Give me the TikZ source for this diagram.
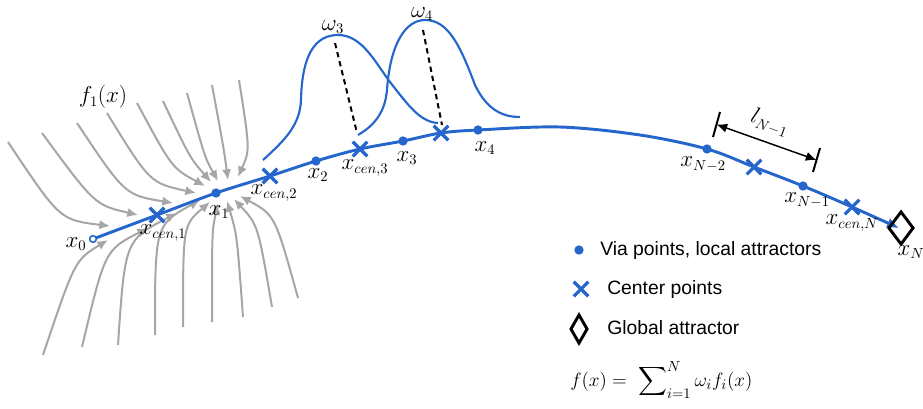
\documentclass[tikz,border=0pt]{standalone}
\usepackage{amsmath,amssymb}
\usepackage{fontspec}
\setsansfont{Liberation Sans}
\usepackage{xcolor}
\usetikzlibrary{arrows.meta,calc,shapes.geometric,shapes.misc}

\definecolor{pathblue}{RGB}{36,102,204}
\definecolor{fieldgray}{RGB}{166,166,166}

\begin{document}
\begin{tikzpicture}[>={Latex[length=8pt,width=7pt]},x=0.75pt,y=-0.75pt,
    pathline/.style={draw=pathblue,line width=2.2pt},
    bump/.style={draw=pathblue,line width=1.6pt},
    stream/.style={->,draw=fieldgray,line width=1.5pt},
    via/.style={circle,fill=pathblue,inner sep=0pt,minimum size=7pt},
    cen/.style={cross out,draw=pathblue,line width=2.4pt,inner sep=0pt,minimum size=8.5pt},
    goal/.style={diamond,draw=black,line width=2.2pt,inner sep=0pt},
    lbl/.style={font=\fontsize{16}{18}\selectfont,inner sep=0pt},
    legtext/.style={anchor=west,font=\sffamily\fontsize{14.5}{17}\selectfont,inner sep=0pt}]
  \useasboundingbox (0,0) rectangle (923,408);

  % --- vector field f_1 converging on x_1
  \foreach \sx/\sy/\cx/\cy/\ex/\ey in {8/142/60/220/110/226, 42/133/95/205/138/215,
      77/123/125/195/173/203, 107/113/150/183/196/193, 137/103/172/168/205/186,
      163/101/190/158/211/182, 187/93/205/158/218/181, 212/85/224/150/228/180,
      239/80/250/150/238/177}
    \draw[stream] (\sx,\sy) .. controls (\cx,\cy) .. (\ex,\ey);
  \foreach \sx/\sy/\cx/\cy/\ex/\ey in {43/355/75/260/108/240, 82/347/105/250/148/228,
      118/345/125/240/177/213, 155/335/155/225/200/200, 183/327/183/225/210/202,
      212/322/212/230/218/204, 243/317/237/235/227/201, 272/307/258/225/234/199,
      298/298/275/215/240/196}
    \draw[stream] (\sx,\sy) .. controls (\cx,\cy) .. (\ex,\ey);
  \node[lbl] (f1) at (103,97) {$f_1(x)$};

  % --- weighting kernels omega_3 and omega_4
  \draw[bump] (263,160) .. controls (285,140) and (300,125) .. (301,100)
    .. controls (302,55) and (315,35) .. (338,35)
    .. controls (362,35) and (375,62) .. (390,82)
    .. controls (408,105) and (420,122) .. (438,123);
  \draw[bump] (358,135) .. controls (375,125) and (385,112) .. (387,90)
    .. controls (390,45) and (405,20) .. (425,20)
    .. controls (448,20) and (460,45) .. (475,85)
    .. controls (488,112) and (505,117) .. (520,117);
  \coordinate (w3top) at (335,43);  \coordinate (w3bot) at (357,133);
  \coordinate (w4top) at (423,30);  \coordinate (w4bot) at (442,125);
  \draw[line width=1.5pt,dash pattern=on 4pt off 3pt] (w3top) -- (w3bot);
  \draw[line width=1.5pt,dash pattern=on 4pt off 3pt] (w4top) -- (w4bot);
  \node[lbl] (w3) at (333,27) {$\omega_3$};
  \node[lbl] (w4) at (422,14) {$\omega_4$};

  % --- trajectory
  \coordinate (x0) at (93,239);   \coordinate (c1) at (157,215);
  \coordinate (x1) at (216,193);  \coordinate (c2) at (270,176);
  \coordinate (x2) at (316,161);  \coordinate (c3) at (360,149);
  \coordinate (x3) at (403,141);  \coordinate (c4) at (441,133);
  \coordinate (x4) at (478,130);  \coordinate (m1) at (560,127);
  \coordinate (m2) at (640,135);  \coordinate (xn2) at (707,149);
  \coordinate (cn1) at (754,167); \coordinate (xn1) at (803,186);
  \coordinate (cn) at (852,207);  \coordinate (tip) at (899,228);
  \draw[pathline,-{Latex[length=9pt,width=8pt]}] plot[smooth,tension=0.55] coordinates
    {(x0) (c1) (x1) (c2) (x2) (c3) (x3) (c4) (x4) (m1) (m2) (xn2) (cn1) (xn1) (cn) (tip)};
  \node[goal,minimum width=19pt,minimum height=25pt] (gx) at (901,228) {};

  \node[circle,draw=pathblue,fill=white,line width=1.2pt,minimum size=5pt,inner sep=0pt] (p0) at (x0) {};
  \foreach \p in {x1,x2,x3,x4,xn2,xn1}
    \node[via] (p\p) at (\p) {};
  \foreach \p in {c1,c2,c3,c4,cn1,cn}
    \node[cen] (p\p) at (\p) {};

  \node[lbl] (lx0) at (76,244) {$x_0$};
  \node[lbl] (lc1) at (163,233) {$x_{cen,1}$};
  \node[lbl] (lx1) at (219,212) {$x_1$};
  \node[lbl] (lc2) at (274,193) {$x_{cen,2}$};
  \node[lbl] (lx2) at (318,175) {$x_2$};
  \node[lbl] (lc3) at (365,168) {$x_{cen,3}$};
  \node[lbl] (lx3) at (407,158) {$x_3$};
  \node[lbl] (lx4) at (485,148) {$x_4$};
  \node[lbl] (lxn2) at (703,164) {$x_{N-2}$};
  \node[lbl] (lxn1) at (807,200) {$x_{N-1}$};
  \node[lbl] (lcn) at (852,223) {$x_{cen,N}$};
  \node[lbl] (lxn) at (911,252) {$x_N$};

  % --- segment length l_{N-1}
  \coordinate (t1a) at (713,137); \coordinate (t1b) at (720,112);
  \coordinate (t2a) at (813,172); \coordinate (t2b) at (820,148);
  \draw[line width=1.5pt] (t1a) -- (t1b);
  \draw[line width=1.5pt] (t2a) -- (t2b);
  \draw[<->,line width=1.1pt] ($(t1a)!0.5!(t1b)$) -- ($(t2a)!0.5!(t2b)$);
  \node[lbl,rotate=-20] (ln) at (770,123) {$l_{N-1}$};

  % --- legend
  \node[via] (legvia) at (579,250) {};
  \node[legtext] (legviatext) at (600,250) {Via points, local attractors};
  \node[cen] (legcen) at (581,289) {};
  \node[legtext] (legcentext) at (607,289) {Center points};
  \node[goal,minimum width=13pt,minimum height=22pt] (leggoal) at (579,329) {};
  \node[legtext] (leggoaltext) at (607,328) {Global attractor};
  \node[anchor=west,inner sep=0pt,font=\fontsize{15}{17}\selectfont] (sum) at (570,380)
    {$f(x)=\ \displaystyle\sum\nolimits_{i=1}^{N}\omega_i f_i(x)$};
\end{tikzpicture}
\end{document}
